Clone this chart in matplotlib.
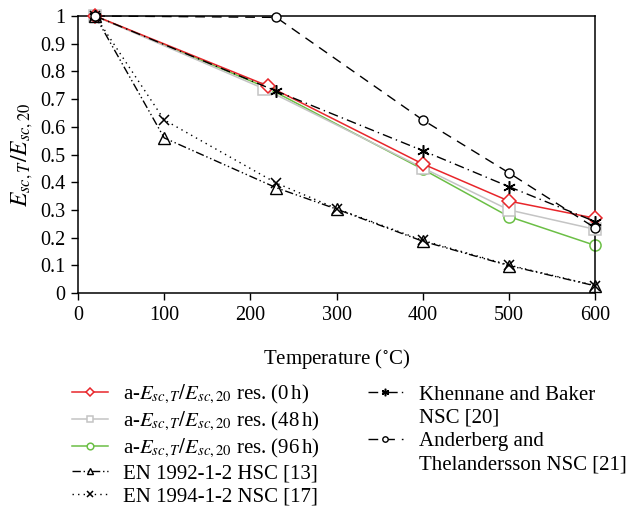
import matplotlib
matplotlib.use("Agg")
import matplotlib.pyplot as plt
from matplotlib.lines import Line2D
from matplotlib.ticker import FuncFormatter, MultipleLocator

plt.rcParams['font.family'] = ['Liberation Serif', 'DejaVu Serif']
plt.rcParams['mathtext.fontset'] = 'stix'

# residual modulus ratio tests
t_res = [20, 220, 400, 500, 600]
t_res48 = [20, 216, 400, 500, 600]
e_0h = [1.0, 0.748, 0.466, 0.332, 0.27]
e_48h = [1.0, 0.737, 0.452, 0.30, 0.23]
e_96h = [1.0, 0.74, 0.447, 0.276, 0.172]

# code / literature curves
t_en = [20, 100, 230, 300, 400, 500, 600]
en1992_hsc = [1.0, 0.56, 0.38, 0.303, 0.187, 0.099, 0.026]
en1994_nsc = [1.0, 0.625, 0.397, 0.305, 0.19, 0.101, 0.027]
t_lit = [20, 230, 400, 500, 600]
khennane = [1.0, 0.729, 0.514, 0.384, 0.258]
anderberg = [1.0, 0.995, 0.625, 0.434, 0.235]

labels_res = [r'a-$E_{sc,T}/E_{sc,20}$ res. (0$\,$h)',
              r'a-$E_{sc,T}/E_{sc,20}$ res. (48$\,$h)',
              r'a-$E_{sc,T}/E_{sc,20}$ res. (96$\,$h)']

red = '#e8262b'
grey = '#c4c4c4'
green = '#6bbf45'
star = (6, 2, 0)

fig = plt.figure(figsize=(6.27, 5.11), dpi=100)
ax = fig.add_axes([0.1244, 0.4266, 0.8246, 0.5421])

l_96, = ax.plot(t_res, e_96h, '-', color=green, lw=1.1, marker='o', ms=8,
                mfc='white', mec=green, mew=1.1, zorder=2, clip_on=False)
l_48, = ax.plot(t_res48, e_48h, '-', color=grey, lw=1.1, marker='s', ms=8,
                mfc='white', mec=grey, mew=1.1, zorder=3, clip_on=False)
l_0, = ax.plot(t_res, e_0h, '-', color=red, lw=1.1, marker='D', ms=7,
               mfc='white', mec=red, mew=1.1, zorder=4, clip_on=False)
l_en92, = ax.plot(t_en, en1992_hsc, color='k', lw=1.0, ls=(0, (6, 2, 1, 2, 1, 2)),
                  marker='^', ms=8, mfc='none', mec='k', mew=1.0, zorder=5,
                  clip_on=False)
l_en94, = ax.plot(t_en, en1994_nsc, color='k', lw=1.0, ls=(0, (1, 3)),
                  marker='x', ms=7, mec='k', mew=1.1, zorder=5, clip_on=False)
l_kh, = ax.plot(t_lit, khennane, color='k', lw=1.0, ls=(0, (7, 3, 1, 3)),
                marker=star, ms=9, mec='k', mew=1.1, zorder=6, clip_on=False)
l_and, = ax.plot(t_lit, anderberg, color='k', lw=1.0, ls=(0, (7, 5)),
                 marker='o', ms=6.5, mfc='white', mec='k', mew=1.0, zorder=6,
                 clip_on=False)

ax.set_xlim(0, 600)
ax.set_ylim(0, 1)
ax.xaxis.set_major_locator(MultipleLocator(100))
ax.yaxis.set_major_locator(MultipleLocator(0.1))
ax.yaxis.set_major_formatter(FuncFormatter(lambda v, p: '%g' % round(v, 1)))
ax.tick_params(direction='out', length=5, width=1.0, labelsize=14.5,
               top=False, right=False, pad=4)
for s in ax.spines.values():
    s.set_linewidth(1.1)

ax.set_ylabel(r'$E_{sc,T}/E_{sc,20}$', fontsize=17, labelpad=4)
ax.set_xlabel('Temperature ($^{\\circ}$C)', fontsize=15, labelpad=16)

blank = Line2D([], [], ls='none')
handles = [l_0, l_48, l_96, l_en92, l_en94, l_kh, blank, l_and, blank]
labels = labels_res + ['EN 1992-1-2 HSC [13]', 'EN 1994-1-2 NSC [17]',
                       'Khennane and Baker', 'NSC [20]',
                       'Anderberg and', 'Thelandersson NSC [21]']
fig.legend(handles, labels, loc='upper left', bbox_to_anchor=(0.115, 0.25),
           ncol=2, frameon=False, fontsize=15, markerscale=0.6,
           handlelength=1.7, handletextpad=0.75, columnspacing=2.3,
           labelspacing=0.18, borderpad=0, borderaxespad=0)

plt.savefig('out.png', dpi=100)
